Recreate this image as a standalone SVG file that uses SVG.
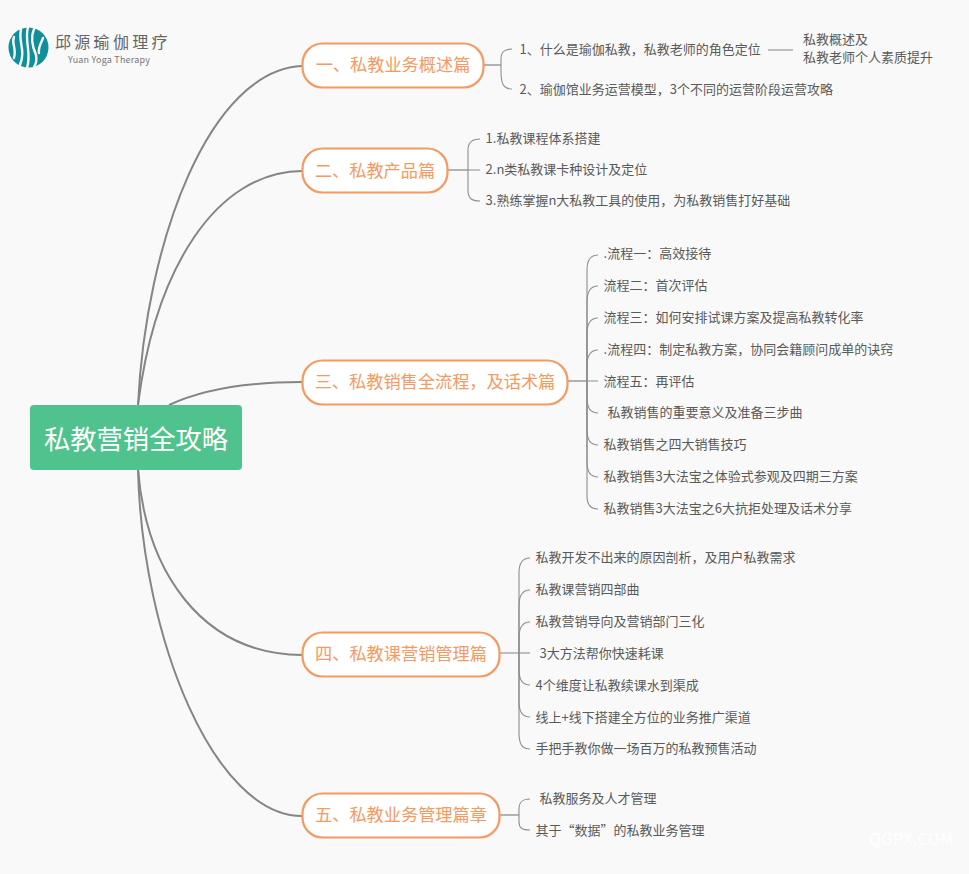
<svg xmlns="http://www.w3.org/2000/svg" width="969" height="874" viewBox="0 0 969 874">
<style>
text{font-family:"Noto Sans CJK SC","Noto Sans",sans-serif}
.t{font-size:13px;fill:#5a5a5a}
.m{font-size:17.2px;fill:#f49a62;text-anchor:middle}
.n{fill:#fff;stroke:#f49a62;stroke-width:2.2}
.c{fill:none;stroke:#858585;stroke-width:2}
.s{fill:none;stroke:#8e8e8e;stroke-width:1.1}
.h{fill:none;stroke:#9a9a9a;stroke-width:1.5}
.l{fill:#0f8f9c}
</style>
<rect width="969" height="874" fill="#f9f9f9"/>
<g id="connectors">
<path class="c" d="M138 405C146 240 210 70 302 66"/>
<path class="c" d="M138 405C155 270 215 172 302 171"/>
<path class="c" d="M169 405C205 388 250 382 302 382"/>
<path class="c" d="M138 469C146 570 200 654 302 655"/>
<path class="c" d="M138 469C142 640 215 816 302 816"/>
<path class="h" d="M484 65H501"/>
<path class="s" d="M512 49C504 49 501 52 501 59V71C501 85 504 89 512 89"/>
<path class="s" d="M768 50H793"/>
<path class="h" d="M448 170H468"/>
<path class="s" d="M480 139C471 139 468 143 468 150V190C468 198 471 201 480 201M468 170H480"/>
<path class="h" d="M568 381H587"/>
<path class="s" d="M598 255C590 255 587 260 587 270V496C587 504 590 509 598 509"/>
<path class="s" d="M598 286C590 286 587 292 587 302V381"/>
<path class="s" d="M598 318C590 318 587 324 587 334V381"/>
<path class="s" d="M598 350C590 350 587 356 587 366V381H598"/>
<path class="s" d="M598 413C590 413 587 408 587 398V381"/>
<path class="s" d="M598 445C590 445 587 440 587 430V381"/>
<path class="s" d="M598 477C590 477 587 472 587 462V381"/>
<path class="s" d="M500 653H530"/>
<path class="s" d="M530 558C522 558 519 563 519 573V733C519 744 522 749 530 749"/>
<path class="s" d="M530 590C522 590 519 596 519 606V653"/>
<path class="s" d="M530 622C522 622 519 628 519 638V653"/>
<path class="s" d="M530 685C522 685 519 680 519 670V653"/>
<path class="s" d="M530 717C522 717 519 712 519 702V653"/>
<path class="h" d="M500 815H519"/>
<path class="s" d="M530 799C522 799 519 802 519 809V822C519 828 522 830 530 830"/>
</g>
<g id="logo">
<circle class="l" cx="28.500" cy="47.500" r="20"/>
<g fill="none" stroke="#f9f9f9" stroke-width="2.4" stroke-linecap="round">
<path d="M14 37C11 44 17 48 14 58"/>
<path d="M21 29C18 42 26 50 20 65"/>
<path d="M28 27C24 42 32 52 27 68"/>
<path d="M34 29C30 38 33 48 36 55C37 60 36 64 34 67"/>
<path d="M43 38C41 44 38 47 39 53"/>
</g>
<text x="55" y="47.500" font-size="16" letter-spacing="3.300" fill="#666">邱源瑜伽理疗</text>
<text x="68" y="62.500" font-size="9" letter-spacing="0.200" fill="#777">Yuan Yoga Therapy</text>
</g>
<g id="root">
<rect x="30" y="405" width="212" height="65" rx="4" fill="#50c28d"/>
<text x="136" y="449" font-size="26.300" fill="#fff" text-anchor="middle">私教营销全攻略</text>
</g>
<g id="node1"><rect class="n" x="302.500" y="43.500" width="181" height="44" rx="20"/><text class="m" x="393" y="71">一、私教业务概述篇</text></g>
<g id="node1-children">
<text class="t" x="519.500" y="54">1、什么是瑜伽私教，私教老师的角色定位</text>
<text class="t" x="803" y="44.300">私教概述及</text>
<text class="t" x="803" y="62.300">私教老师个人素质提升</text>
<text class="t" x="519.500" y="94">2、瑜伽馆业务运营模型，3个不同的运营阶段运营攻略</text>
</g>
<g id="node2"><rect class="n" x="302.500" y="148.500" width="145" height="44" rx="20"/><text class="m" x="375" y="177">二、私教产品篇</text></g>
<g id="node2-children" transform="translate(0.600 -0.700)">
<text class="t" x="485" y="144">1.私教课程体系搭建</text>
<text class="t" x="485" y="175">2.n类私教课卡种设计及定位</text>
<text class="t" x="485" y="206">3.熟练掌握n大私教工具的使用，为私教销售打好基础</text>
</g>
<g id="node3"><rect class="n" x="302.500" y="360.500" width="265" height="44" rx="20"/><text class="m" x="435" y="388">三、私教销售全流程，及话术篇</text></g>
<g id="node3-children" transform="translate(0.600 -0.700)">
<text class="t" x="603" y="259">.流程一：高效接待</text>
<text class="t" x="603" y="291">流程二：首次评估</text>
<text class="t" x="603" y="323">流程三：如何安排试课方案及提高私教转化率</text>
<text class="t" x="603" y="355">.流程四：制定私教方案，协同会籍顾问成单的诀窍</text>
<text class="t" x="603" y="387">流程五：再评估</text>
<text class="t" x="607" y="418">私教销售的重要意义及准备三步曲</text>
<text class="t" x="603" y="450">私教销售之四大销售技巧</text>
<text class="t" x="603" y="482">私教销售3大法宝之体验式参观及四期三方案</text>
<text class="t" x="603" y="514">私教销售3大法宝之6大抗拒处理及话术分享</text>
</g>
<g id="node4"><rect class="n" x="302.500" y="632.500" width="197" height="44" rx="20"/><text class="m" x="401" y="660">四、私教课营销管理篇</text></g>
<g id="node4-children" transform="translate(0.600 -0.700)">
<text class="t" x="535" y="563">私教开发不出来的原因剖析，及用户私教需求</text>
<text class="t" x="535" y="595">私教课营销四部曲</text>
<text class="t" x="535" y="627">私教营销导向及营销部门三化</text>
<text class="t" x="539" y="659">3大方法帮你快速耗课</text>
<text class="t" x="535" y="691">4个维度让私教续课水到渠成</text>
<text class="t" x="535" y="723">线上+线下搭建全方位的业务推广渠道</text>
<text class="t" x="535" y="754">手把手教你做一场百万的私教预售活动</text>
</g>
<g id="node5"><rect class="n" x="302.500" y="793.500" width="197" height="44" rx="20"/><text class="m" x="401" y="821">五、私教业务管理篇章</text></g>
<g id="node5-children" transform="translate(0.600 -0.700)">
<text class="t" x="539" y="804">私教服务及人才管理</text>
<text class="t" x="535" y="836">其于“数据”的私教业务管理</text>
</g>
<text x="869" y="845" font-size="16" fill="#fff" letter-spacing="0.500" font-family="Open Sans">QGPX.COM</text>
</svg>
